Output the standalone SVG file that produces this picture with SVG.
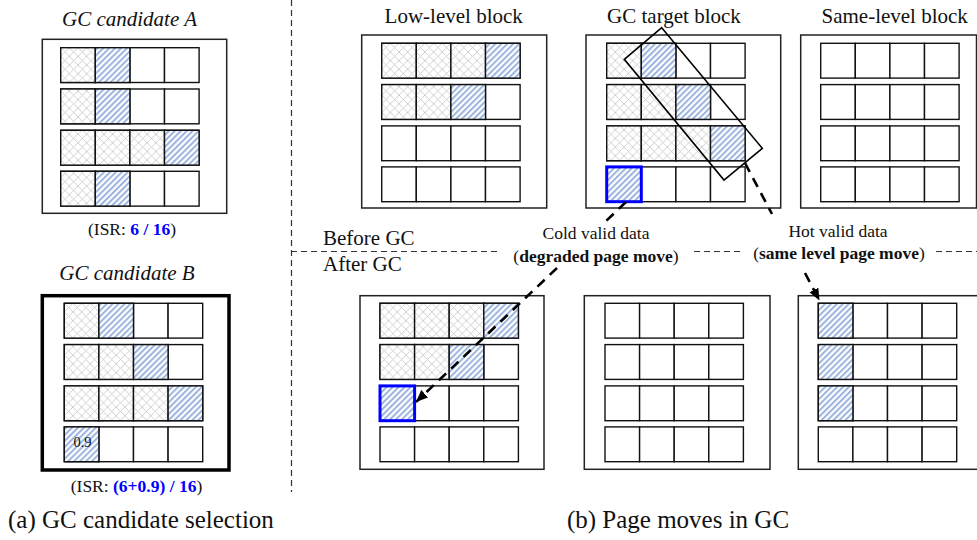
<svg xmlns="http://www.w3.org/2000/svg" xmlns:xlink="http://www.w3.org/1999/xlink" width="977" height="540" viewBox="0 0 977 540">
<style>
.c{fill:#fff;stroke:#111;stroke-width:1.4}
.g{fill:url(#pg);stroke:#111;stroke-width:1.4}
.b{fill:url(#pb);stroke:#111;stroke-width:1.4}
.hl{fill:url(#pb);stroke:#0000ff;stroke-width:3}
.blk{fill:none;stroke:#222;stroke-width:1.5}
.thick{fill:none;stroke:#000;stroke-width:3.5}
.t{font-family:"Liberation Serif","Times New Roman",serif;fill:#111}
.title{font-size:21px}
.it{font-style:italic}
.lbl{font-size:17.5px}
.cap{font-size:25px}
.bold{font-weight:bold}
.blue{fill:#0000ff}
.sep{fill:none;stroke:#333;stroke-width:1.2;stroke-dasharray:6 4}
.arr{fill:none;stroke:#000;stroke-width:2.6;stroke-dasharray:10 7}
</style>
<defs>
<pattern id="pg" width="8.65" height="8.65" patternUnits="userSpaceOnUse"><rect width="8.65" height="8.65" fill="#fff"/><path d="M0,0L8.65,8.65M8.65,0L0,8.65" stroke="#c4c4c4" stroke-width="0.8"/></pattern>
<pattern id="pb" width="4.2" height="4.2" patternUnits="userSpaceOnUse" patternTransform="rotate(45)"><rect width="4.2" height="4.2" fill="#fff"/><rect width="2" height="4.2" fill="#9db4de"/></pattern>
<g id="row"><rect class="c" x="0" y="0" width="34.6" height="34.8"/><rect class="c" x="34.6" y="0" width="34.6" height="34.8"/><rect class="c" x="69.2" y="0" width="34.6" height="34.8"/><rect class="c" x="103.8" y="0" width="34.6" height="34.8"/></g>
<marker id="ah" markerUnits="userSpaceOnUse" markerWidth="14" markerHeight="12" refX="12" refY="5" orient="auto"><path d="M0,0L12,5L0,10z" fill="#000"/></marker>
</defs>
<rect width="977" height="540" fill="#fff"/>

<!-- separators -->
<g id="separators">
<path class="sep" d="M291.5,0V492"/>
<path class="sep" d="M291,251.5H498M694,251.5H742M936,251.5H977"/>
</g>

<!-- GC candidate A -->
<g id="candA">
<text class="t title it" x="129.5" y="26" text-anchor="middle">GC candidate A</text>
<rect class="blk" x="42.3" y="39.3" width="184.4" height="174"/>
<g transform="translate(60.7,47.7)">
<use href="#row" y="0"/><use href="#row" y="41.3"/><use href="#row" y="82.6"/><use href="#row" y="123.6"/>
<rect class="g" x="0" y="0" width="34.6" height="34.8"/><rect class="b" x="34.6" y="0" width="34.6" height="34.8"/>
<rect class="g" x="0" y="41.3" width="34.6" height="34.8"/><rect class="b" x="34.6" y="41.3" width="34.6" height="34.8"/>
<rect class="g" x="0" y="82.6" width="34.6" height="34.8"/><rect class="g" x="34.6" y="82.6" width="34.6" height="34.8"/><rect class="g" x="69.2" y="82.6" width="34.6" height="34.8"/><rect class="b" x="103.8" y="82.6" width="34.6" height="34.8"/>
<rect class="g" x="0" y="123.6" width="34.6" height="34.8"/><rect class="b" x="34.6" y="123.6" width="34.6" height="34.8"/>
</g>
<text class="t lbl" x="132" y="235" text-anchor="middle">(ISR: <tspan class="bold blue">6 / 16</tspan>)</text>
</g>

<!-- GC candidate B -->
<g id="candB">
<text class="t title it" x="127" y="280" text-anchor="middle">GC candidate B</text>
<rect class="thick" x="42.3" y="295.7" width="186.7" height="174.3"/>
<g transform="translate(64.3,303.3)">
<use href="#row" y="0"/><use href="#row" y="41.3"/><use href="#row" y="82.6"/><use href="#row" y="123.6"/>
<rect class="g" x="0" y="0" width="34.6" height="34.8"/><rect class="b" x="34.6" y="0" width="34.6" height="34.8"/>
<rect class="g" x="0" y="41.3" width="34.6" height="34.8"/><rect class="g" x="34.6" y="41.3" width="34.6" height="34.8"/><rect class="b" x="69.2" y="41.3" width="34.6" height="34.8"/>
<rect class="g" x="0" y="82.6" width="34.6" height="34.8"/><rect class="g" x="34.6" y="82.6" width="34.6" height="34.8"/><rect class="g" x="69.2" y="82.6" width="34.6" height="34.8"/><rect class="b" x="103.8" y="82.6" width="34.6" height="34.8"/>
<rect class="b" x="0" y="123.6" width="34.6" height="34.8"/>
</g>
<text class="t" x="82.5" y="446.5" font-size="14.5" text-anchor="middle">0.9</text>
<text class="t lbl" x="136.5" y="491.7" text-anchor="middle">(ISR: <tspan class="bold blue">(6+0.9) / 16</tspan>)</text>
</g>

<text class="t cap" x="8" y="528">(a) GC candidate selection</text>
<text class="t cap" x="678" y="528" text-anchor="middle">(b) Page moves in GC</text>

<!-- Low-level block (before) -->
<g id="lowTop">
<text class="t title" x="453.7" y="23" text-anchor="middle">Low-level block</text>
<rect class="blk" x="361.7" y="35" width="185" height="173"/>
<g transform="translate(381.7,43.3)">
<use href="#row" y="0"/><use href="#row" y="41.3"/><use href="#row" y="82.6"/><use href="#row" y="123.6"/>
<rect class="g" x="0" y="0" width="34.6" height="34.8"/><rect class="g" x="34.6" y="0" width="34.6" height="34.8"/><rect class="g" x="69.2" y="0" width="34.6" height="34.8"/><rect class="b" x="103.8" y="0" width="34.6" height="34.8"/>
<rect class="g" x="0" y="41.3" width="34.6" height="34.8"/><rect class="g" x="34.6" y="41.3" width="34.6" height="34.8"/><rect class="b" x="69.2" y="41.3" width="34.6" height="34.8"/>
</g>
</g>

<!-- GC target block -->
<g id="gcTarget">
<text class="t title" x="674" y="23" text-anchor="middle">GC target block</text>
<rect class="blk" x="586" y="35" width="194.7" height="173"/>
<g transform="translate(606.7,43.3)">
<use href="#row" y="0"/><use href="#row" y="41.3"/><use href="#row" y="82.6"/><use href="#row" y="123.6"/>
<rect class="g" x="0" y="0" width="34.6" height="34.8"/><rect class="b" x="34.6" y="0" width="34.6" height="34.8"/>
<rect class="g" x="0" y="41.3" width="34.6" height="34.8"/><rect class="g" x="34.6" y="41.3" width="34.6" height="34.8"/><rect class="b" x="69.2" y="41.3" width="34.6" height="34.8"/>
<rect class="g" x="0" y="82.6" width="34.6" height="34.8"/><rect class="g" x="34.6" y="82.6" width="34.6" height="34.8"/><rect class="g" x="69.2" y="82.6" width="34.6" height="34.8"/><rect class="b" x="103.8" y="82.6" width="34.6" height="34.8"/>
<rect class="hl" x="0" y="123.6" width="34.6" height="34.8"/>
</g>
<polygon points="661.7,27.7 762.3,148.3 724,180 624.3,59.3" fill="none" stroke="#000" stroke-width="1.6"/>
</g>

<!-- Same-level block (before) -->
<g id="sameTop">
<text class="t title" x="894.7" y="23" text-anchor="middle">Same-level block</text>
<rect class="blk" x="800.7" y="35" width="175.8" height="173"/>
<g transform="translate(820.7,43.3)">
<use href="#row" y="0"/><use href="#row" y="41.3"/><use href="#row" y="82.6"/><use href="#row" y="123.6"/>
</g>
</g>

<text class="t title" x="323" y="245">Before GC</text>
<text class="t title" x="323" y="271">After GC</text>

<!-- Low-level block (after) -->
<g id="lowBot">
<rect class="blk" x="360" y="295.7" width="184" height="173.6"/>
<g transform="translate(380,303.3)">
<use href="#row" y="0"/><use href="#row" y="41.3"/><use href="#row" y="82.6"/><use href="#row" y="123.6"/>
<rect class="g" x="0" y="0" width="34.6" height="34.8"/><rect class="g" x="34.6" y="0" width="34.6" height="34.8"/><rect class="g" x="69.2" y="0" width="34.6" height="34.8"/><rect class="b" x="103.8" y="0" width="34.6" height="34.8"/>
<rect class="g" x="0" y="41.3" width="34.6" height="34.8"/><rect class="g" x="34.6" y="41.3" width="34.6" height="34.8"/><rect class="b" x="69.2" y="41.3" width="34.6" height="34.8"/>
<rect class="hl" x="0" y="82.6" width="34.6" height="34.8"/>
</g>
</g>

<!-- Erased block (after) -->
<g id="midBot">
<rect class="blk" x="584.3" y="295.7" width="185.7" height="173.6"/>
<g transform="translate(605,303.3)">
<use href="#row" y="0"/><use href="#row" y="41.3"/><use href="#row" y="82.6"/><use href="#row" y="123.6"/>
</g>
</g>

<!-- Same-level block (after) -->
<g id="sameBot">
<rect class="blk" x="798.3" y="295.7" width="190" height="173.6"/>
<g transform="translate(818.3,303.3)">
<use href="#row" y="0"/><use href="#row" y="41.3"/><use href="#row" y="82.6"/><use href="#row" y="123.6"/>
<rect class="b" x="0" y="0" width="34.6" height="34.8"/>
<rect class="b" x="0" y="41.3" width="34.6" height="34.8"/>
<rect class="b" x="0" y="82.6" width="34.6" height="34.8"/>
</g>
</g>

<!-- connectors -->
<g id="connectors">
<path class="arr" d="M626,202L606,221M557,268L416,402" marker-end="url(#ah)"/>
<path class="arr" d="M745,163L772,214M805,273L819.5,300.5" marker-end="url(#ah)"/>
<text class="t lbl" x="596" y="239" text-anchor="middle">Cold valid data</text>
<text class="t lbl" x="596" y="261.5" text-anchor="middle">(<tspan class="bold">degraded page move</tspan>)</text>
<text class="t lbl" x="838" y="237" text-anchor="middle">Hot valid data</text>
<text class="t lbl" x="839" y="258.5" text-anchor="middle">(<tspan class="bold">same level page move</tspan>)</text>
</g>
</svg>
